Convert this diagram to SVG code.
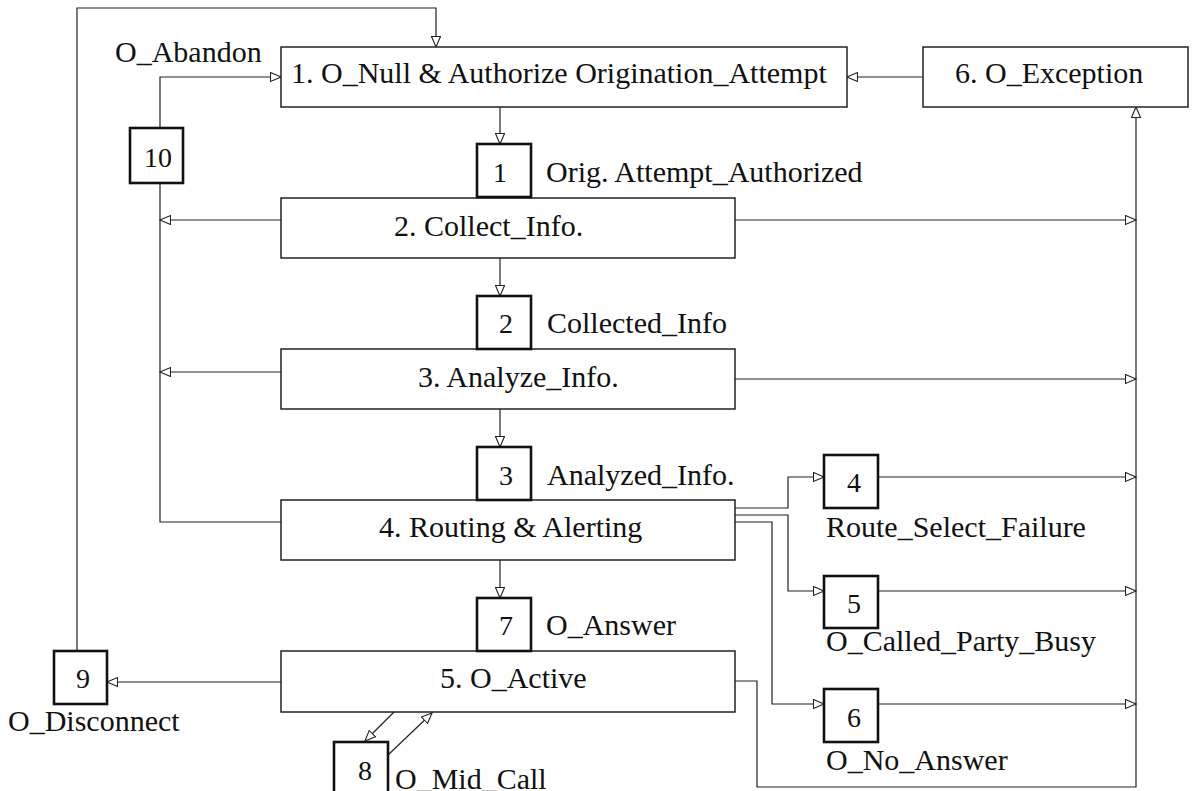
<svg xmlns="http://www.w3.org/2000/svg" width="1193" height="791" viewBox="0 0 1193 791">
  <style>
    .st { fill: #fff; stroke: #222; stroke-width: 1.5; }
    .nb { fill: #fff; stroke: #111; stroke-width: 2.6; }
    .ln { fill: none; stroke: #222; stroke-width: 1.2; }
    .arr { marker-end: url(#tri); }
    text { font-family: "Liberation Serif", "Times New Roman", serif; font-size: 30px; fill: #111; }
    .num { font-size: 28px; }
  </style>
  <defs>
    <marker id="tri" markerUnits="userSpaceOnUse" markerWidth="13" markerHeight="12" refX="11" refY="5" orient="auto">
      <path d="M0.5,0.5 L11,5 L0.5,9.5 Z" fill="#fff" stroke="#222" stroke-width="1.1"/>
    </marker>
  </defs>
  <rect width="1193" height="791" fill="#fff"/>

  <g id="connectors">
    <!-- disconnect loop back to O_Null -->
    <path class="ln arr" d="M77,651 V8 H436 V47"/>
    <!-- abandon -->
    <path class="ln arr" d="M160,128 V77 H281"/>
    <!-- exception returns to null -->
    <path class="ln arr" d="M923,77 H847"/>
    <!-- main downward flow -->
    <path class="ln arr" d="M500,107 V144"/>
    <path class="ln arr" d="M500,258 V296"/>
    <path class="ln arr" d="M500,409 V447"/>
    <path class="ln arr" d="M500,560 V598"/>
    <!-- abandon collection bus on the left -->
    <path class="ln" d="M160,183 V522 H281"/>
    <path class="ln arr" d="M281,220 H160"/>
    <path class="ln arr" d="M281,372 H160"/>
    <!-- exception bus on the right -->
    <path class="ln arr" d="M735,220 H1136"/>
    <path class="ln arr" d="M735,379 H1136"/>
    <path class="ln arr" d="M735,681 H757 V787 H1136 V107"/>
    <!-- routing outcomes -->
    <path class="ln arr" d="M735,508 H788 V477 H824"/>
    <path class="ln arr" d="M735,515 H788 V591 H824"/>
    <path class="ln arr" d="M735,522 H772 V704 H824"/>
    <path class="ln arr" d="M878,477 H1136"/>
    <path class="ln arr" d="M878,591 H1136"/>
    <path class="ln arr" d="M878,704 H1136"/>
    <!-- disconnect -->
    <path class="ln arr" d="M281,682 H107"/>
    <!-- mid call -->
    <path class="ln arr" d="M394,712 L365,741"/>
    <path class="ln arr" d="M388,755 L432,713"/>
  </g>

  <g id="pic1">
    <rect class="st" x="281" y="47" width="566" height="60"/>
    <text x="291" y="83">1. O_Null &amp; Authorize Origination_Attempt</text>
  </g>
  <g id="pic6">
    <rect class="st" x="923" y="47" width="265" height="60"/>
    <text x="955" y="83">6. O_Exception</text>
  </g>
  <g id="pic2">
    <rect class="st" x="281" y="198" width="454" height="60"/>
    <text x="394" y="236">2. Collect_Info.</text>
  </g>
  <g id="pic3">
    <rect class="st" x="281" y="349" width="454" height="60"/>
    <text x="418" y="387">3. Analyze_Info.</text>
  </g>
  <g id="pic4">
    <rect class="st" x="281" y="500" width="454" height="60"/>
    <text x="379" y="537">4. Routing &amp; Alerting</text>
  </g>
  <g id="pic5">
    <rect class="st" x="281" y="651" width="454" height="61"/>
    <text x="440" y="688">5. O_Active</text>
  </g>

  <g id="dp1">
    <rect class="nb" x="477" y="144" width="54" height="53"/>
    <text class="num" x="493" y="182">1</text>
    <text x="546" y="182">Orig. Attempt_Authorized</text>
  </g>
  <g id="dp2">
    <rect class="nb" x="477" y="296" width="54" height="53"/>
    <text class="num" x="499" y="333">2</text>
    <text x="547" y="333">Collected_Info</text>
  </g>
  <g id="dp3">
    <rect class="nb" x="477" y="447" width="54" height="53"/>
    <text class="num" x="499" y="485">3</text>
    <text x="547" y="485">Analyzed_Info.</text>
  </g>
  <g id="dp4">
    <rect class="nb" x="824" y="455" width="54" height="53"/>
    <text class="num" x="847" y="492">4</text>
    <text x="826" y="537">Route_Select_Failure</text>
  </g>
  <g id="dp5">
    <rect class="nb" x="824" y="576" width="54" height="52"/>
    <text class="num" x="847" y="613">5</text>
    <text x="826" y="651">O_Called_Party_Busy</text>
  </g>
  <g id="dp6">
    <rect class="nb" x="824" y="689" width="54" height="53"/>
    <text class="num" x="847" y="727">6</text>
    <text x="826" y="770">O_No_Answer</text>
  </g>
  <g id="dp7">
    <rect class="nb" x="477" y="598" width="54" height="53"/>
    <text class="num" x="499" y="635">7</text>
    <text x="546" y="635">O_Answer</text>
  </g>
  <g id="dp8">
    <rect class="nb" x="334" y="742" width="54" height="60"/>
    <text class="num" x="358" y="780">8</text>
    <text x="395" y="789">O_Mid_Call</text>
  </g>
  <g id="dp9">
    <rect class="nb" x="54" y="651" width="53" height="53"/>
    <text class="num" x="76" y="688">9</text>
    <text x="8" y="731">O_Disconnect</text>
  </g>
  <g id="dp10">
    <rect class="nb" x="130" y="128" width="53" height="55"/>
    <text class="num" x="144" y="167">10</text>
    <text x="115" y="62">O_Abandon</text>
  </g>
</svg>
